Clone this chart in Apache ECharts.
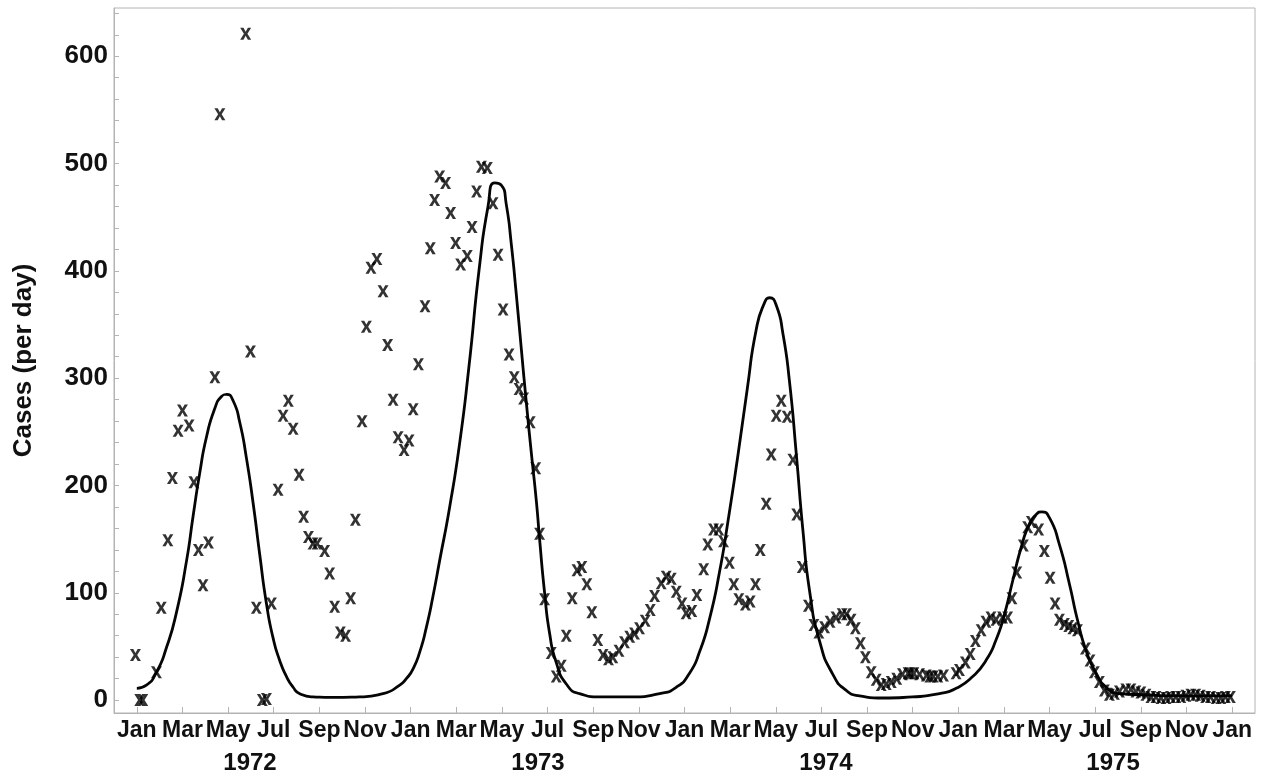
<!DOCTYPE html>
<html><head><meta charset="utf-8">
<script src="https://cdn.jsdelivr.net/npm/echarts@6/dist/echarts.min.js"></script>
<style>html,body{margin:0;padding:0;background:#fff}#c{width:1272px;height:781px}</style>
</head><body><div id="c"></div>
<script>
// x values: months since Jan 1972
const monthTickLabels = ['Jan','Mar','May','Jul','Sep','Nov'];
const yearLabels = ['1972','1973','1974','1975'];
const yearLabelAt = [4.96, 17.58, 30.2, 42.78];
const yTickLabels = [0,100,200,300,400,500,600];

const observedCases = [
[-0.06,42],[0.13,0],[0.26,0],[0.86,26],[1.07,86],[1.36,149],[1.56,207],[1.81,251],[2.0,270],[2.29,256],
[2.5,203],[2.7,140],[2.9,107],[3.14,147],[3.42,301],[3.64,546],[4.77,621],[4.98,325],[5.24,86],[5.5,0],
[5.68,1],[5.9,90],[6.19,196],[6.41,265],[6.64,279],[6.85,253],[7.11,210],[7.31,171],[7.52,152],[7.72,146],
[7.9,146],[8.23,139],[8.45,118],[8.67,87],[8.92,63],[9.15,60],[9.37,95],[9.58,168],[9.87,260],[10.06,348],
[10.26,403],[10.52,411],[10.79,381],[10.99,331],[11.23,280],[11.45,245],[11.71,233],[11.93,242],[12.11,271],[12.34,313],
[12.63,367],[12.86,421],[13.05,466],[13.27,488],[13.53,482],[13.75,454],[13.97,426],[14.19,406],[14.48,414],[14.69,441],
[14.89,474],[15.1,497],[15.36,496],[15.61,463],[15.83,415],[16.05,364],[16.31,322],[16.54,301],[16.75,290],[16.95,281],
[17.24,259],[17.48,216],[17.65,155],[17.87,94],[18.16,44],[18.38,22],[18.6,32],[18.82,60],[19.08,95],[19.29,121],
[19.5,124],[19.72,108],[19.94,82],[20.2,56],[20.43,42],[20.67,38],[20.86,40],[21.13,46],[21.37,54],[21.6,59],
[21.81,62],[22.03,67],[22.28,74],[22.5,84],[22.69,97],[22.98,109],[23.2,115],[23.42,113],[23.64,101],[23.89,90],
[24.07,81],[24.32,83],[24.54,98],[24.84,122],[25.02,145],[25.27,159],[25.5,159],[25.71,148],[25.97,128],[26.16,108],
[26.38,94],[26.67,89],[26.88,92],[27.11,108],[27.32,140],[27.58,183],[27.8,229],[28.02,265],[28.24,279],[28.5,264],
[28.75,224],[28.92,173],[29.16,124],[29.43,88],[29.67,70],[29.89,63],[30.14,68],[30.38,73],[30.64,77],[30.91,80],
[31.1,80],[31.3,75],[31.49,67],[31.71,53],[31.93,40],[32.18,26],[32.4,19],[32.62,14],[32.84,15],[33.06,17],
[33.3,20],[33.55,24],[33.8,25],[33.9,25],[34.05,25],[34.3,24],[34.6,23],[34.75,22],[34.9,22],[35.1,22],
[35.35,23],[35.9,25],[36.05,28],[36.31,35],[36.52,43],[36.75,55],[37.0,65],[37.21,73],[37.43,77],[37.65,75],
[37.94,77],[38.16,77],[38.35,95],[38.56,119],[38.85,144],[39.04,161],[39.2,166],[39.52,159],[39.77,139],[40.02,114],
[40.24,90],[40.43,75],[40.65,71],[40.84,69],[41.02,67],[41.22,65],[41.57,48],[41.77,37],[41.96,26],[42.18,17],
[42.4,9],[42.62,5],[42.84,6],[43.06,8],[43.34,10],[43.56,10],[43.78,8],[44.0,7],[44.22,5],[44.44,3],
[44.66,3],[44.88,2],[45.1,2],[45.3,3],[45.53,3],[45.75,3],[45.97,4],[46.19,5],[46.4,5],[46.6,4],
[46.84,3],[47.05,3],[47.3,2],[47.5,2],[47.7,3],[47.92,3]
];

const modelCases = [
[0,11],[0.42,14],[0.86,26],[1.3,49],[1.74,82],[2.18,130],[2.47,172],[2.76,212],[3.05,245],[3.42,272],
[3.71,283],[3.93,285],[4.22,279],[4.51,259],[4.8,226],[5.1,183],[5.39,135],[5.68,90],[5.97,58],[6.26,37],
[6.56,22],[6.85,12],[7.14,6],[7.72,3],[8.6,2.5],[9.77,3],[10.79,6],[11.52,14],[11.81,20],[12.1,29],
[12.4,45],[12.69,68],[12.98,97],[13.27,130],[13.71,180],[14.15,240],[14.55,310],[15.02,405],[15.39,460],[15.68,482],
[15.97,480],[16.19,462],[16.41,425],[16.63,378],[16.85,327],[17.07,277],[17.29,230],[17.51,185],[17.65,150],[17.87,100],
[18.09,62],[18.38,35],[18.82,15],[19.4,6],[20.28,3],[21.74,3],[22.91,6],[23.64,12],[24.22,25],[24.66,45],
[25.1,76],[25.54,120],[25.9,166],[26.34,228],[26.75,290],[27.14,345],[27.5,370],[27.73,375],[28.02,368],[28.31,342],
[28.6,297],[28.9,229],[29.19,158],[29.48,102],[29.92,55],[30.5,24],[31.09,9],[31.67,4],[32.69,2],[34.0,3],
[35.17,6],[35.9,11],[36.63,22],[37.21,37],[37.65,56],[38.02,80],[38.38,111],[38.75,142],[39.11,164],[39.41,173],
[39.65,175.5],[39.99,170],[40.43,145],[40.87,108],[41.23,74],[41.6,46],[42.04,25],[42.48,12],[43.06,6],[44.06,5],
[45.5,4],[47,4],[48,4]
];

const monthTicks = [];
for (let m = 0; m <= 48; m += 2) monthTicks.push(m);
const yMinorTicks = [];
for (let v = 0; v <= 640; v += 20) yMinorTicks.push(v);

const FONT = "'Liberation Sans', Arial, sans-serif";
const AXIS_GRAY = '#b4b4b4';
const X_MARK = 'path://M0,0L3,0L5,3.9L7,0L10,0L6.6,6L10,12L7,12L5,8.1L3,12L0,12L3.4,6Z';

const chart = echarts.init(document.getElementById('c'), null, {renderer: 'canvas'});
chart.setOption({
  animation: false,
  backgroundColor: '#fff',
  grid: {
    left: 114, top: 8, width: 1141, height: 705,
    containLabel: false, outerBoundsMode: 'none',
    show: true, borderColor: AXIS_GRAY, borderWidth: 1
  },
  xAxis: [{
    type: 'value', min: -1, max: 49, position: 'bottom',
    axisLine: {show: true, onZero: false, lineStyle: {color: AXIS_GRAY, width: 1}},
    axisTick: {show: true, inside: true, length: 6, customValues: monthTicks, lineStyle: {color: AXIS_GRAY}},
    splitLine: {show: false},
    axisLabel: {
      customValues: monthTicks, margin: 6, hideOverlap: false,
      showMinLabel: true, showMaxLabel: true,
      formatter: v => monthTickLabels[Math.round(v / 2) % 6],
      color: '#111', fontWeight: 'bold', fontSize: 23, fontFamily: FONT
    }
  }, {
    type: 'value', min: -1, max: 49, position: 'bottom', offset: 32,
    axisLine: {show: false}, axisTick: {show: false}, splitLine: {show: false},
    axisLabel: {
      customValues: yearLabelAt, margin: 6, hideOverlap: false,
      formatter: v => yearLabels[yearLabelAt.indexOf(v)],
      color: '#111', fontWeight: 'bold', fontSize: 24, fontFamily: FONT
    }
  }],
  yAxis: {
    type: 'value', min: -12, max: 645,
    name: 'Cases (per day)', nameLocation: 'middle', nameGap: 77,
    nameTextStyle: {color: '#111', fontWeight: 'bold', fontSize: 26, fontFamily: FONT},
    axisLine: {show: true, onZero: false, lineStyle: {color: AXIS_GRAY, width: 1}},
    axisTick: {show: true, inside: true, length: 5, customValues: yMinorTicks, lineStyle: {color: AXIS_GRAY}},
    splitLine: {show: false},
    axisLabel: {
      customValues: yTickLabels, margin: 6,
      color: '#111', fontWeight: 'bold', fontSize: 26, fontFamily: FONT
    }
  },
  series: [{
    type: 'line', data: modelCases, smooth: 0.6,
    showSymbol: false, lineStyle: {color: '#050505', width: 2.8}, z: 2
  }, {
    type: 'scatter', data: observedCases, symbol: X_MARK, symbolSize: [11, 12],
    itemStyle: {color: '#000'}, z: 3
  }]
});
</script>
</body></html>
